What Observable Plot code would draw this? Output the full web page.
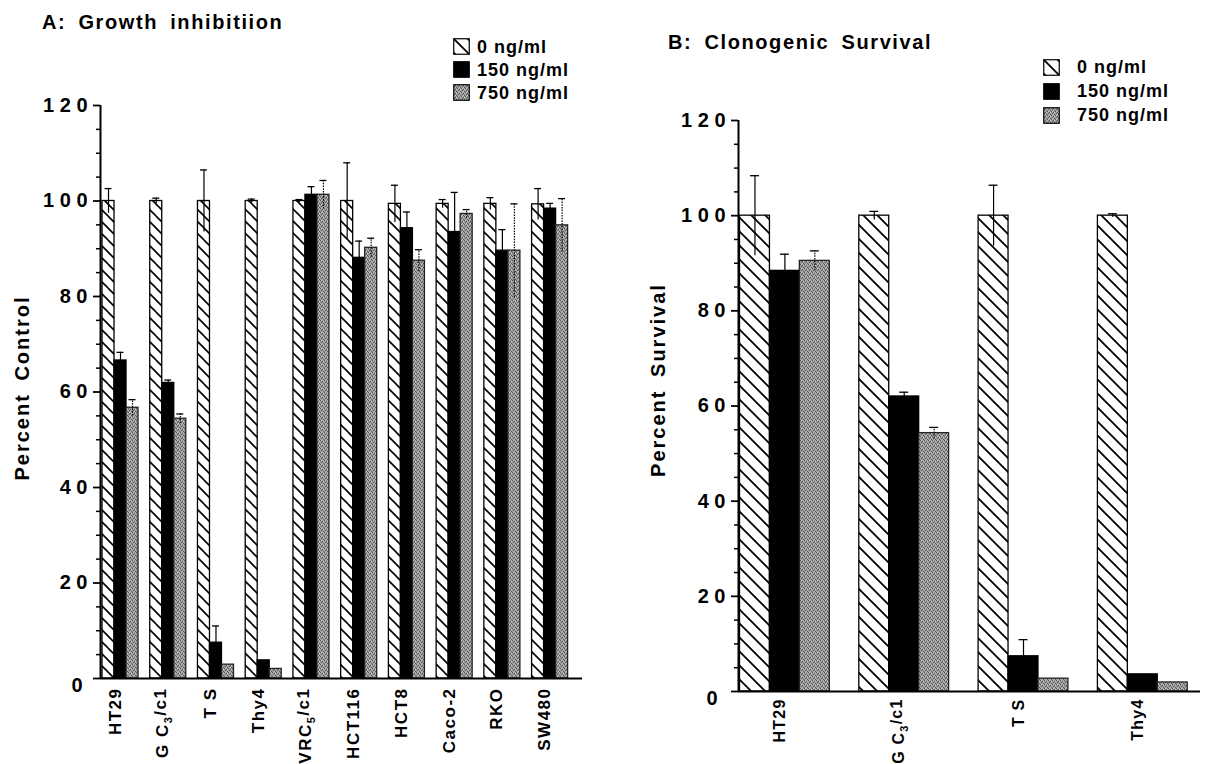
<!DOCTYPE html>
<html><head><meta charset="utf-8">
<script src="https://cdn.jsdelivr.net/npm/d3@7"></script>
<script src="https://cdn.jsdelivr.net/npm/@observablehq/plot@0.6"></script>
<style>
body{margin:0;background:#fff;}
#wrap{position:relative;width:1210px;height:764px;overflow:hidden;font-family:"Liberation Sans",Arial,Helvetica,sans-serif;color:#000;}
.panel{position:absolute;top:0;}
.title{position:absolute;font-weight:bold;font-size:20px;line-height:1;letter-spacing:1.6px;word-spacing:5px;white-space:nowrap;}
.legend{position:absolute;font-weight:bold;font-size:18px;letter-spacing:1px;line-height:1;}
.legend .row{display:flex;align-items:center;white-space:nowrap;}
.legend svg{display:block;}
.ylab{position:absolute;font-weight:bold;font-size:20px;line-height:1;letter-spacing:2px;word-spacing:5px;white-space:nowrap;transform:translate(-50%,-50%) rotate(-90deg);}
</style></head>
<body>
<svg width="0" height="0" style="position:absolute">
<defs>
<pattern id="hatchA" patternUnits="userSpaceOnUse" width="12" height="12">
<rect width="12" height="12" fill="white"/>
<path d="M-3,-3 L15,15 M-3,9 L3,15 M9,-3 L15,3" stroke="black" stroke-width="1.6"/>
</pattern>
<pattern id="hatchB" patternUnits="userSpaceOnUse" width="14" height="14">
<rect width="14" height="14" fill="white"/>
<path d="M-3,-3 L17,17 M-3,11 L3,17 M11,-3 L17,3" stroke="black" stroke-width="1.8"/>
</pattern>
<pattern id="stipple" patternUnits="userSpaceOnUse" width="4" height="4" shape-rendering="crispEdges">
<rect width="4" height="4" fill="#9c9c9c"/>
<rect x="0" y="0" width="1" height="1" fill="#505050"/>
<rect x="2" y="1" width="1" height="1" fill="#484848"/>
<rect x="1" y="2" width="1" height="1" fill="#5e5e5e"/>
<rect x="3" y="3" width="1" height="1" fill="#555555"/>
<rect x="3" y="1" width="1" height="1" fill="#cfcfcf"/>
<rect x="1" y="0" width="1" height="1" fill="#c2c2c2"/>
<rect x="2" y="3" width="1" height="1" fill="#bdbdbd"/>
</pattern>
</defs>
</svg>
<div id="wrap">
  <div class="title" style="left:42px;top:12px;">A:  Growth  inhibitiion</div>
  <div class="title" style="left:668px;top:32px;">B:  Clonogenic  Survival</div>
  <div class="ylab" style="left:22px;top:388px;">Percent Control</div>
  <div class="ylab" style="left:658px;top:380px;">Percent Survival</div>
  <div class="legend" id="legA" style="left:453px;top:35px;"></div>
  <div class="legend" id="legB" style="left:1043px;top:55px;"></div>
</div>
<script>
// ---- data ----
const doses = ["0 ng/ml", "150 ng/ml", "750 ng/ml"];
const yMajorTicks = [0, 20, 40, 60, 80, 100, 120];
const yMinorTicks = [5,10,15,25,30,35,45,50,55,65,70,75,85,90,95,105,110,115];

// Panel A: Growth inhibition
const cellsA = ["HT29", "G C_3/c1", "T S", "Thy4", "VRC_5/c1", "HCT116", "HCT8", "Caco-2", "RKO", "SW480"];
const a0     = [100, 100, 100, 100, 100, 100, 99.4, 99.4, 99.4, 99.3];
const a0err  = [2.6, 0.6, 6.5, 0.4, 0.3, 8.0, 3.9, 0.9, 1.3, 3.3];
const a150   = [66.6, 61.9, 7.5, 3.8, 101.3, 88.1, 94.3, 93.5, 89.6, 98.4];
const a150err= [1.7, 0.6, 3.5, 0, 1.7, 3.5, 3.4, 8.3, 4.4, 1.1];
const a750   = [56.7, 54.4, 2.9, 2.0, 101.3, 90.2, 87.5, 97.3, 89.6, 94.9];
const a750err= [1.7, 1.0, 0, 0, 3.0, 2.0, 2.3, 0.9, 9.8, 5.6];

// Panel B: Clonogenic survival
const cellsB = ["HT29", "G C_3/c1", "T S", "Thy4"];
const b0     = [100, 100, 100, 100];
const b0err  = [8.4, 0.9, 6.4, 0.4];
const b150   = [88.4, 62.0, 7.4, 3.6];
const b150err= [3.5, 0.9, 3.5, 0];
const b750   = [90.5, 54.3, 2.7, 1.9];
const b750err= [2.1, 1.2, 0, 0];

const spaced = d => String(d).split("").join(" ");

function makePanel(o) {
  const {cells, series, errs, hatch} = o;
  const step = (o.width - o.marginLeft - o.marginRight) / (o.xDomain[1] - o.xDomain[0]);
  const w = o.bw / series.length;
  const cap = o.capPx / step;
  const rows = [];
  cells.forEach((c, i) => series.forEach((s, k) =>
    rows.push({cell: c, i, k, v: s[i], e: errs[k][i], cx: i + (k + 0.5) * w})));
  const fills = [`url(#${hatch})`, "black", "url(#stipple)"];
  const strokes = ["black", "black", "#222"];
  const barMarks = fills.map((f, k) => Plot.rect(rows.filter(d => d.k === k), {
    x1: d => d.i + d.k * w, x2: d => d.i + (d.k + 1) * w, y1: 0, y2: "v",
    fill: f, stroke: strokes[k], strokeWidth: 1.3
  }));
  const er = rows.filter(d => d.e > 0);
  const errMarks = [0, 1, 2].flatMap(k => {
    const dd = er.filter(d => d.k === k);
    const extra = k === 2 ? {strokeDasharray: "1.5,1.2"} : {};
    return [
      Plot.ruleX(dd, {x: "cx", y1: d => d.v - d.e, y2: d => d.v + d.e, stroke: "black", strokeWidth: 1.2, ...extra}),
      Plot.ruleY(dd, {y: d => d.v + d.e, x1: d => d.cx - cap, x2: d => d.cx + cap, stroke: "black", strokeWidth: 1.3})
    ];
  });
  const svg = Plot.plot({
    width: o.width, height: o.height,
    marginLeft: o.marginLeft, marginRight: o.marginRight, marginTop: o.marginTop, marginBottom: o.marginBottom,
    style: {fontFamily: '"Liberation Sans", Arial, Helvetica, sans-serif', fontWeight: "bold", background: "transparent", overflow: "visible", color: "black"},
    x: {domain: o.xDomain, axis: null},
    y: {domain: [0, 120], label: null},
    marks: [
      ...barMarks,
      ...errMarks,
      Plot.ruleX([o.xDomain[0]], {stroke: "black", strokeWidth: 2}),
      Plot.ruleY([0], {stroke: "black", strokeWidth: 2}),
      Plot.axisY({ticks: yMinorTicks, tickSize: 4, tickFormat: () => "", strokeWidth: 1.5, label: null}),
      Plot.axisY({ticks: yMajorTicks, tickSize: 7, tickPadding: 6, tickFormat: d => d === 0 ? "" : spaced(d), fontSize: 20, fontWeight: "bold", strokeWidth: 1.8, label: null}),
      Plot.axisY({ticks: [0], tickSize: 0, tickPadding: 13 + o.zeroDx, dy: 7, tickFormat: spaced, fontSize: 20, fontWeight: "bold", label: null}),
      Plot.text(cells, {x: (d, i) => i + o.bw / 2, frameAnchor: "bottom", dy: o.labelDy, rotate: -90,
        textAnchor: "end", fontSize: o.labelSize, fontWeight: "bold", text: d => d})
    ]
  });
  // subscripts and letter spacing on category labels
  d3.select(svg).selectAll('g[aria-label="text"] text').each(function() {
    const t = this.textContent;
    this.style.letterSpacing = o.labelSpacing;
    if (t.includes("_")) {
      const [pre, rest] = t.split("_");
      const sub = rest[0], post = rest.slice(1);
      const el = d3.select(this);
      el.text(null);
      el.append("tspan").text(pre);
      el.append("tspan").attr("dy", "0.35em").attr("font-size", "11px").text(sub);
      el.append("tspan").attr("dy", "-0.35em").text(post);
    }
  });
  return svg;
}

const svgA = makePanel({
  cells: cellsA, series: [a0, a150, a750], errs: [a0err, a150err, a750err], hatch: "hatchA",
  width: 620, height: 764, marginLeft: 100, marginRight: 38, marginTop: 105, marginBottom: 86,
  xDomain: [-0.042, 10.056], bw: 0.7547, capPx: 3.5,
  labelSize: 17, labelDy: 9, labelSpacing: "1.5px", zeroDx: 5
});
const svgB = makePanel({
  cells: cellsB, series: [b0, b150, b750], errs: [b0err, b150err, b750err], hatch: "hatchB",
  width: 590, height: 764, marginLeft: 118, marginRight: 10, marginTop: 120, marginBottom: 73,
  xDomain: [-0.0126, 3.860], bw: 0.7527, capPx: 4.5,
  labelSize: 16, labelDy: 7, labelSpacing: "1.2px", zeroDx: 8
});
const wrap = document.getElementById("wrap");
svgA.classList.add("panel"); svgA.style.left = "0px";
svgB.classList.add("panel"); svgB.style.left = "620px";
wrap.prepend(svgB); wrap.prepend(svgA);

// legends
const legendFills = ["url(#hatchB)", "black", "url(#stipple)"];
function buildLegend(id, rowH, gap) {
  const leg = d3.select("#" + id);
  doses.forEach((name, k) => {
    const row = leg.append("div").attr("class", "row").style("height", rowH + "px");
    const s = row.append("svg").attr("width", 17).attr("height", 17).style("margin-right", gap + "px");
    s.append("rect").attr("x", 0.75).attr("y", 0.75).attr("width", 15.5).attr("height", 15.5)
      .attr("fill", legendFills[k]).attr("stroke", "black").attr("stroke-width", 1.2);
    row.append("span").text(name);
  });
}
buildLegend("legA", 23, 7);
buildLegend("legB", 24, 17);
</script>
</body></html>
